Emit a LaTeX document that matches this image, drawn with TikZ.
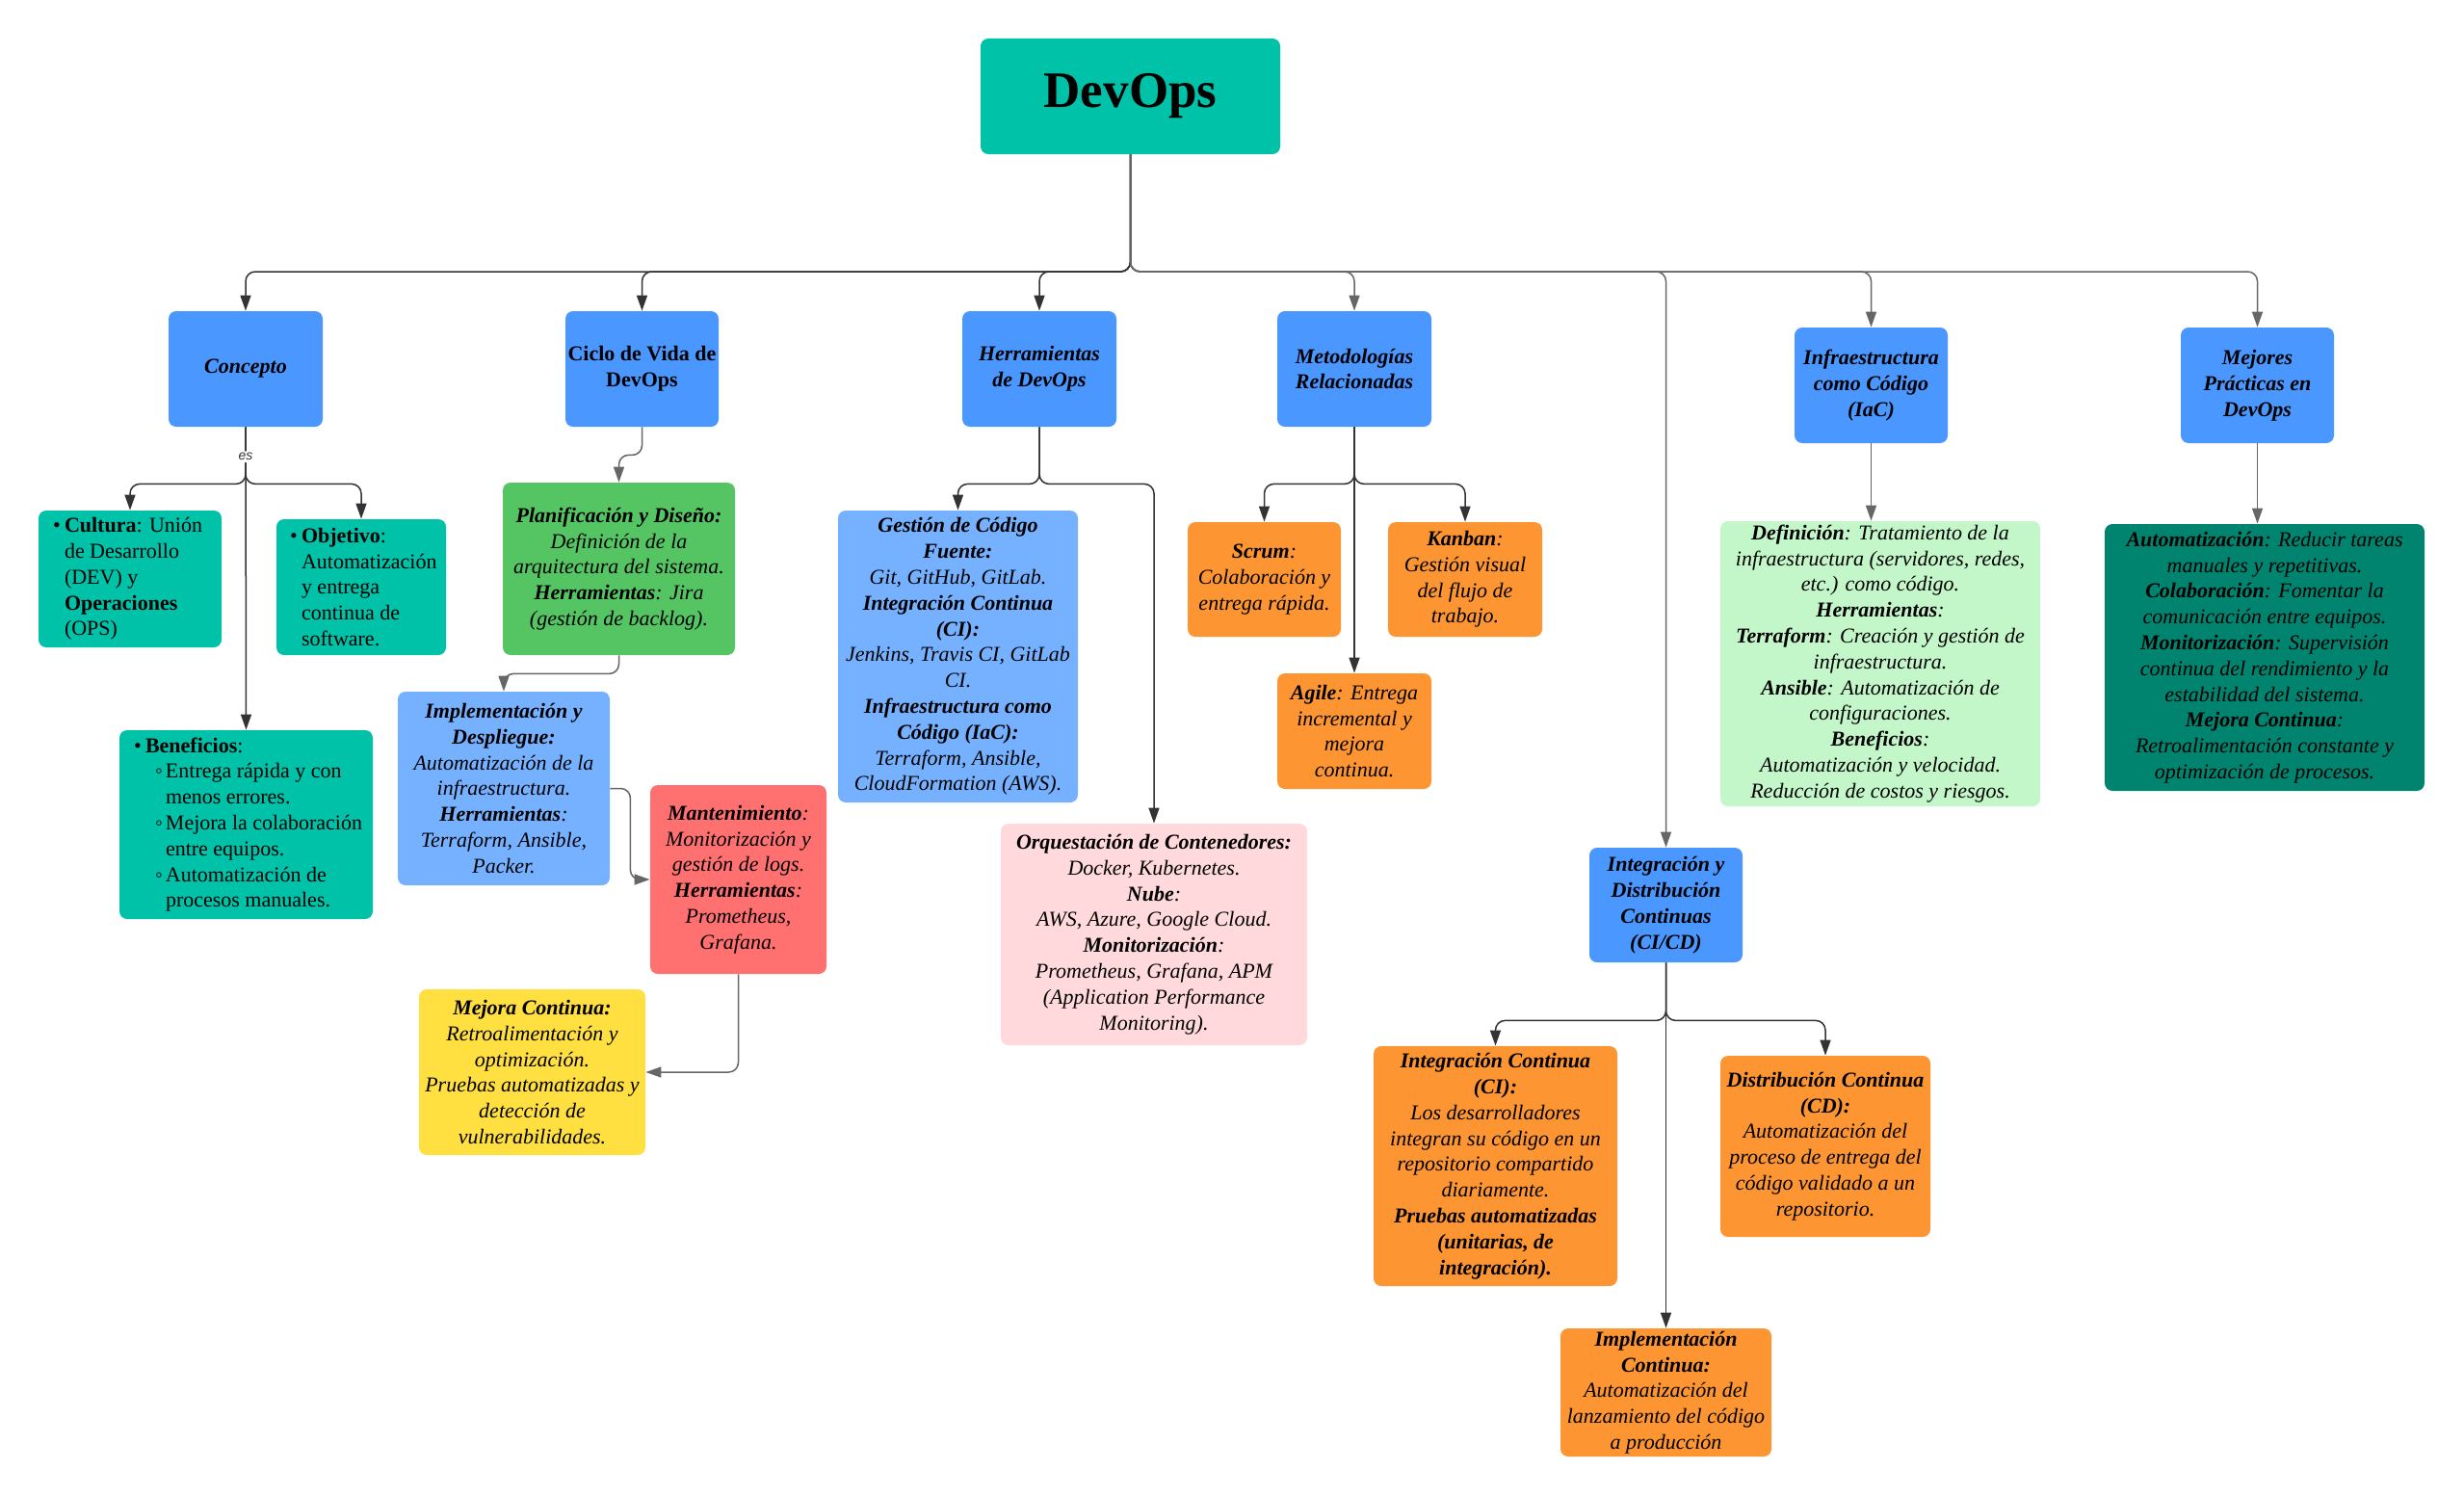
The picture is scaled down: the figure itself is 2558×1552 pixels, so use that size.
\documentclass[tikz,border=0pt]{standalone}
\usepackage{fontspec}
\setmainfont{Liberation Serif}
\newfontfamily\lblfont{Liberation Sans}
\usetikzlibrary{arrows.meta}
\definecolor{cTeal}{HTML}{00C2A8}
\definecolor{cBlue}{HTML}{4A97FF}
\definecolor{cLBlue}{HTML}{76B1FF}
\definecolor{cGreen}{HTML}{55C563}
\definecolor{cRed}{HTML}{FF7070}
\definecolor{cYellow}{HTML}{FFE040}
\definecolor{cPink}{HTML}{FFD9DB}
\definecolor{cOrange}{HTML}{FC9532}
\definecolor{cLGreen}{HTML}{C3F6C8}
\definecolor{cDTeal}{HTML}{00836F}
\definecolor{cDark}{HTML}{333333}
\definecolor{cGray}{HTML}{666666}
\newcommand\bul{\makebox[6pt][l]{•}}
\newcommand\sbul{\hspace*{11pt}\makebox[5.5pt][l]{◦}}
\begin{document}
\begin{tikzpicture}[x=0.5pt,y=-0.5pt,
  box/.style={rounded corners=4pt, inner sep=0pt, align=center,
    font=\fontsize{11}{13.4}\selectfont\itshape},
  upr/.style={font=\fontsize{11}{13.4}\selectfont},
  txt/.style={inner sep=0pt, align=left, anchor=west, font=\fontsize{11}{13.4}\selectfont},
  conn/.style={draw=cDark, line width=0.75pt, rounded corners=5pt,
    -{Triangle[length=8pt,width=5.5pt]}},
  conng/.style={conn, draw=cGray},
  lbl/.style={fill=white, inner sep=1pt, text=cDark, font=\lblfont\itshape\fontsize{7}{8}\selectfont}]

\path[use as bounding box, fill=white] (0,0) rectangle (2558,1552);

% ---------- main node ----------
\node[box, fill=cTeal, minimum width=155.5pt, minimum height=60pt,
  font=\fontsize{26.5}{30}\selectfont\bfseries] (devops) at (1173.5,100) {DevOps};

% ---------- first level ----------
\node[box, fill=cBlue, minimum width=80pt, minimum height=60pt] (concepto) at (255,383) {\textbf{Concepto}};
\node[box, fill=cBlue, minimum width=79.5pt, minimum height=60pt, upr] (ciclo) at (666.5,383) {\textbf{Ciclo de Vida de}\\\textbf{DevOps}};
\node[box, fill=cBlue, minimum width=80pt, minimum height=60pt] (herr) at (1079,383) {\textbf{Herramientas}\\\textbf{de DevOps}};
\node[box, fill=cBlue, minimum width=80pt, minimum height=60pt] (metod) at (1406,383) {\textbf{Metodologías}\\\textbf{Relacionadas}};
\node[box, fill=cBlue, minimum width=79.5pt, minimum height=60pt] (infra) at (1942.5,400) {\textbf{Infraestructura}\\\textbf{como Código}\\\textbf{(IaC)}};
\node[box, fill=cBlue, minimum width=79.5pt, minimum height=60pt] (mejores) at (2343.5,400) {\textbf{Mejores}\\\textbf{Prácticas en}\\\textbf{DevOps}};
\node[box, fill=cBlue, minimum width=79.5pt, minimum height=59.5pt] (cicd) at (1729.5,939.5) {\textbf{Integración y}\\\textbf{Distribución}\\\textbf{Continuas}\\\textbf{(CI/CD)}};

% ---------- Concepto children ----------
\node[box, fill=cTeal, minimum width=95pt, minimum height=71pt] (cultura) at (135,601) {};
\node[txt] (culturat) at ([xshift=7.5pt]cultura.west) {\bul\textbf{Cultura}: Unión\\\hspace*{6pt}de Desarrollo\\\hspace*{6pt}(DEV) y\\\hspace*{6pt}\textbf{Operaciones}\\\hspace*{6pt}(OPS)};
\node[box, fill=cTeal, minimum width=88pt, minimum height=70.5pt] (objetivo) at (375,609.5) {};
\node[txt] (objetivot) at ([xshift=7pt]objetivo.west) {\bul\textbf{Objetivo}:\\\hspace*{6pt}Automatización\\\hspace*{6pt}y entrega\\\hspace*{6pt}continua de\\\hspace*{6pt}software.};
\node[box, fill=cTeal, minimum width=131.5pt, minimum height=98pt] (benef) at (255.5,856) {};
\node[txt] (beneft) at ([xshift=7.5pt]benef.west) {\bul\textbf{Beneficios}:\\\sbul Entrega rápida y con\\\hspace*{16.5pt}menos errores.\\\sbul Mejora la colaboración\\\hspace*{16.5pt}entre equipos.\\\sbul Automatización de\\\hspace*{16.5pt}procesos manuales.};

% ---------- Ciclo children ----------
\node[box, fill=cGreen, minimum width=120.5pt, minimum height=89.5pt] (planif) at (642.5,590.5) {\textbf{Planificación y Diseño:}\\Definición de la\\arquitectura del sistema.\\\textbf{Herramientas}: Jira\\(gestión de backlog).};
\node[box, fill=cLBlue, minimum width=110pt, minimum height=100.5pt] (impl) at (523,818.5) {\textbf{Implementación y}\\\textbf{Despliegue:}\\Automatización de la\\infraestructura.\\\textbf{Herramientas}:\\Terraform, Ansible,\\Packer.};
\node[box, fill=cRed, minimum width=91.5pt, minimum height=98pt] (mant) at (766.5,913) {\textbf{Mantenimiento}:\\Monitorización y\\gestión de logs.\\\textbf{Herramientas}:\\Prometheus,\\Grafana.};
\node[box, fill=cYellow, minimum width=117.5pt, minimum height=86pt] (mejora) at (552.5,1113) {\textbf{Mejora Continua:}\\Retroalimentación y\\optimización.\\Pruebas automatizadas y\\detección de\\vulnerabilidades.};

% ---------- Herramientas children ----------
\node[box, fill=cLBlue, minimum width=124.5pt, minimum height=151.5pt] (gestion) at (994.5,681.5) {\textbf{Gestión de Código}\\\textbf{Fuente:}\\Git, GitHub, GitLab.\\\textbf{Integración Continua}\\\textbf{(CI):}\\Jenkins, Travis CI, GitLab\\CI.\\\textbf{Infraestructura como}\\\textbf{Código (IaC):}\\Terraform, Ansible,\\CloudFormation (AWS).};
\node[box, fill=cPink, minimum width=159pt, minimum height=115pt] (orq) at (1198,970) {\textbf{Orquestación de Contenedores:}\\Docker, Kubernetes.\\\textbf{Nube}:\\AWS, Azure, Google Cloud.\\\textbf{Monitorización}:\\Prometheus, Grafana, APM\\(Application Performance\\Monitoring).};

% ---------- Metodologias children ----------
\node[box, fill=cOrange, minimum width=79.5pt, minimum height=59.5pt] (scrum) at (1312.5,601.5) {\textbf{Scrum}:\\Colaboración y\\entrega rápida.};
\node[box, fill=cOrange, minimum width=80pt, minimum height=59.5pt] (kanban) at (1521,601.5) {\textbf{Kanban}:\\Gestión visual\\del flujo de\\trabajo.};
\node[box, fill=cOrange, minimum width=80pt, minimum height=60pt] (agile) at (1406,759) {\textbf{Agile}: Entrega\\incremental y\\mejora\\continua.};

% ---------- IaC and Mejores children ----------
\node[box, fill=cLGreen, minimum width=166pt, minimum height=148pt] (iactxt) at (1952,689) {\textbf{Definición}: Tratamiento de la\\infraestructura (servidores, redes,\\etc.) como código.\\\textbf{Herramientas}:\\\textbf{Terraform}: Creación y gestión de\\infraestructura.\\\textbf{Ansible}: Automatización de\\configuraciones.\\\textbf{Beneficios}:\\Automatización y velocidad.\\Reducción de costos y riesgos.};
\node[box, fill=cDTeal, minimum width=166pt, minimum height=138.5pt] (mejtxt) at (2351,682.5) {\textbf{Automatización}: Reducir tareas\\manuales y repetitivas.\\\textbf{Colaboración}: Fomentar la\\comunicación entre equipos.\\\textbf{Monitorización}: Supervisión\\continua del rendimiento y la\\estabilidad del sistema.\\\textbf{Mejora Continua}:\\Retroalimentación constante y\\optimización de procesos.};

% ---------- CI/CD children ----------
\node[box, fill=cOrange, minimum width=126.5pt, minimum height=124.5pt] (ci) at (1552.5,1210.5) {\textbf{Integración Continua}\\\textbf{(CI):}\\Los desarrolladores\\integran su código en un\\repositorio compartido\\diariamente.\\\textbf{Pruebas automatizadas}\\\textbf{(unitarias, de}\\\textbf{integración).}};
\node[box, fill=cOrange, minimum width=109pt, minimum height=94pt] (cd) at (1895,1190) {\textbf{Distribución Continua}\\\textbf{(CD):}\\Automatización del\\proceso de entrega del\\código validado a un\\repositorio.};
\node[box, fill=cOrange, minimum width=109.5pt, minimum height=66.5pt] (implc) at (1729.5,1445.5) {\textbf{Implementación}\\\textbf{Continua:}\\Automatización del\\lanzamiento del código\\a producción};

% ---------- connectors: top bus ----------
\coordinate (bus) at (1173.5,282);
\draw[conn] (devops.south) -- (bus) -| (concepto.north);
\draw[conn] (devops.south) -- (bus) -| (ciclo.north);
\draw[conn] (devops.south) -- (bus) -| (herr.north);
\draw[conng] (devops.south) -- (bus) -| (metod.north);
\draw[conng] (devops.south) -- (bus) -| (cicd.north);
\draw[conng] (devops.south) -- (bus) -| (infra.north);
\draw[conng] (devops.south) -- (bus) -| (mejores.north);

% ---------- Concepto ----------
\draw[conn] (concepto.south) -- ++(0,59) -| (cultura.north);
\draw[conn] (concepto.south) -- ++(0,59) -| (objetivo.north);
\draw[conn] (concepto.south) -- node[lbl, pos=0.098] (es) {es} (benef.north);

% ---------- Ciclo ----------
\draw[conng] (ciclo.south) -- ++(0,29) -| (planif.north);
\draw[conng] (planif.south) -- ++(0,19) -| (impl.north);
\draw[conng] (impl.east) -- ++(21,0) |- (mant.west);
\draw[conng] (mant.south) |- (mejora.east);

% ---------- Herramientas ----------
\draw[conn] (herr.south) -- ++(0,59) -| (gestion.north);
\draw[conn] (herr.south) -- ++(0,59) -| (orq.north);

% ---------- Metodologias ----------
\draw[conn] (metod.south) -- ++(0,59) -| (scrum.north);
\draw[conn] (metod.south) -- ++(0,59) -| (kanban.north);
\draw[conn] (metod.south) -- (agile.north);

% ---------- IaC / Mejores ----------
\draw[conng] (infra.south) -- (infra.south |- iactxt.north);
\draw[conng] (mejores.south) -- (mejores.south |- mejtxt.north);

% ---------- CI/CD ----------
\draw[conn] (cicd.south) -- ++(0,60) -| (ci.north);
\draw[conn] (cicd.south) -- ++(0,60) -| (cd.north);
\draw[conn] (cicd.south) -- (implc.north);
\end{tikzpicture}
\end{document}
